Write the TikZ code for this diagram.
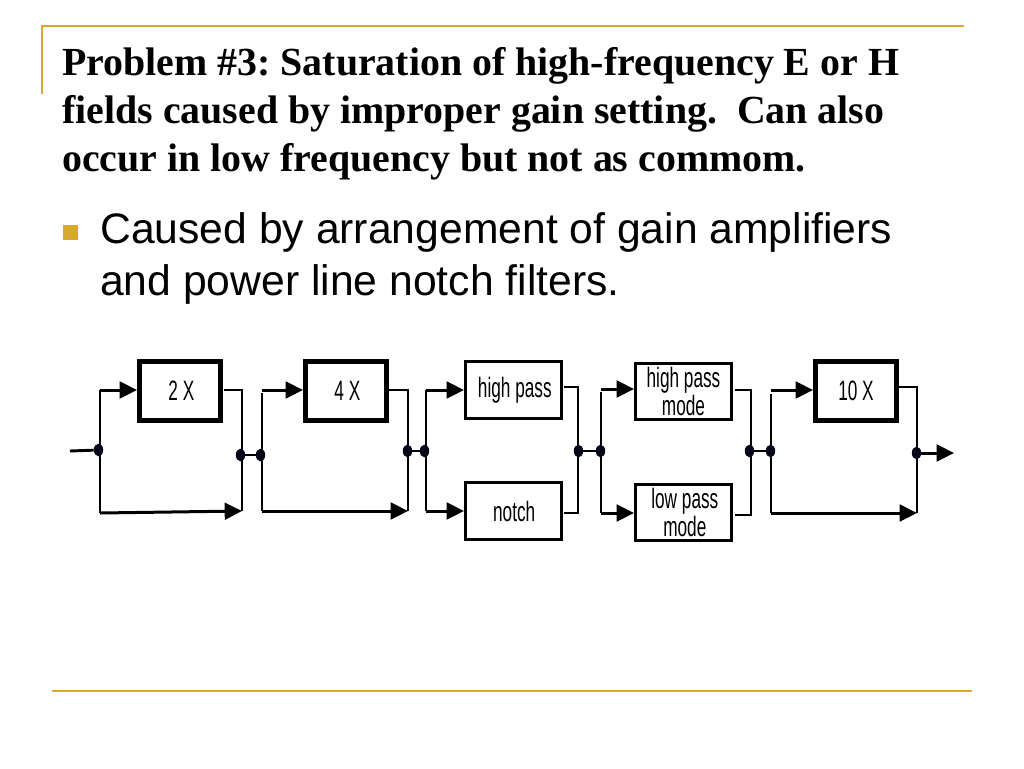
\documentclass[tikz,border=0pt]{standalone}
\usepackage{fontspec}
\usepackage{graphicx}
\setmainfont{Liberation Serif}
\setsansfont{Liberation Sans}
\usetikzlibrary{arrows.meta,shapes.geometric,backgrounds}
\definecolor{gold}{HTML}{D6A92F}
\definecolor{dotc}{HTML}{05051A}
\newcommand{\boxtext}[1]{\scalebox{0.615}[1]{\sffamily\fontsize{21}{20}\selectfont #1}}
\tikzset{
  x=0.75pt,y=-0.75pt,
  rule/.style={draw=gold,line width=1.9pt},
  thickbox/.style={draw=black,fill=white,line width=3.75pt,minimum width=60.75pt,minimum height=44.5pt,inner sep=0pt},
  thinbox/.style={draw=black,fill=white,line width=2.25pt,minimum width=72pt,minimum height=43pt,inner sep=0pt,align=center},
  dotj/.style={ellipse,fill=dotc,inner sep=0pt,minimum width=7pt,minimum height=9.5pt},
  wire/.style={draw=black,line width=2.2pt},
  arrowwire/.style={draw=black,line width=2.25pt,-{Triangle[length=13pt,width=12.5pt]}},
}
\begin{document}
\frenchspacing
\begin{tikzpicture}
\useasboundingbox (0,0) rectangle (1024,768);
% frame rules
\coordinate (tl) at (42,26);
\coordinate (tr) at (964,26);
\coordinate (lb) at (42,94);
\coordinate (bl) at (52,691);
\coordinate (br) at (972,691);
\draw[rule] (lb) -- (tl) -- (tr);
\draw[rule] (bl) -- (br);
% title
\node[anchor=north west,align=left,inner sep=0pt,font=\fontsize{29.9}{36}\selectfont\bfseries] (title) at (62,47)
 {Problem \#3: Saturation of high-frequency E or H\\ fields caused by improper gain setting.\ \ Can also\\ occur in low frequency but not as commom.};
% bullet
\node[fill=gold,inner sep=0pt,minimum size=11pt] (bullet) at (70.5,232.5) {};
\node[anchor=north west,align=left,inner sep=0pt,font=\sffamily\fontsize{32}{39.4}\selectfont] (body) at (100,212)
 {Caused by arrangement of gain amplifiers\\ and power line notch filters.};
% boxes
\node[thickbox] (b2) at (180,391) {\hspace*{2pt}\boxtext{2 X}};
\node[thickbox] (b4) at (346,391) {\hspace*{2pt}\boxtext{4 X}};
\node[thinbox] (hp) at (513.5,390) {\hspace*{2pt}\boxtext{high pass}};
\node[thinbox] (nt) at (513.5,511) {\hspace*{1pt}\boxtext{notch}};
\node[thinbox,minimum height=42pt] (hm) at (683.5,391.5) {\boxtext{high pass}\\[0.5pt]\boxtext{mode}};
\node[thinbox,minimum height=42pt] (lm) at (683.5,512.5) {\hspace*{2pt}\boxtext{low pass}\\[0.5pt]\hspace*{2pt}\boxtext{mode}};
\node[thickbox] (b10) at (856,391) {\boxtext{10 X}};
% junctions
\node[dotj] (d1) at (98.5,450) {};
\node[dotj] (d2) at (240.5,455) {};
\node[dotj] (d3) at (260.5,455) {};
\node[dotj] (d4) at (407.5,451) {};
\node[dotj] (d5) at (424.5,451) {};
\node[dotj] (d6) at (578.5,451) {};
\node[dotj] (d7) at (600.5,451) {};
\node[dotj] (d8) at (749.5,451) {};
\node[dotj] (d9) at (770.5,451) {};
\node[dotj] (d10) at (916.5,453) {};
% free ends and corners
\coordinate (in) at (70,451);
\coordinate (out) at (954,453);
\coordinate (a1t) at (100,390); \coordinate (a1b) at (100,513);
\coordinate (a2e) at (242,511); \coordinate (a2t) at (242,390); \coordinate (a2s) at (224,390);
\coordinate (b2in) at (137,390);
\coordinate (c1t) at (262,393); \coordinate (c1s) at (262,390); \coordinate (c1b) at (262,511);
\coordinate (b4in) at (303,390);
\coordinate (c2e) at (408,511); \coordinate (c2t) at (408,390); \coordinate (c2s) at (389,390);
\coordinate (e1t) at (426,390); \coordinate (e1b) at (426,511);
\coordinate (hpin) at (464,390); \coordinate (ntin) at (464,511);
\coordinate (e2a) at (564,387); \coordinate (e2t) at (578,387); \coordinate (e2u) at (578,513); \coordinate (e2c) at (564,513);
\coordinate (f1t) at (601,392); \coordinate (f1s) at (601,389); \coordinate (f1b) at (601,513);
\coordinate (hmin) at (634,389); \coordinate (lmin) at (634,513);
\coordinate (f2a) at (735,390); \coordinate (f2t) at (751,390); \coordinate (f2u) at (751,515); \coordinate (f2c) at (735,515);
\coordinate (g1t) at (771,394); \coordinate (g1s) at (771,390); \coordinate (g1b) at (771,513);
\coordinate (b10in) at (813,390);
\coordinate (g2a) at (899,387); \coordinate (g2t) at (917,387); \coordinate (g2e) at (917,513);
\begin{pgfonlayer}{background}
\fill[white] (0,0) rectangle (1024,768);
% wires: 2 X
\draw[wire] (in) -- (d1);
\draw[wire] (a1b) -- (a1t);
\draw[arrowwire] (a1t) -- (b2in);
\draw[arrowwire] (a1b) -- (a2e);
\draw[wire] (a2s) -- (a2t) -- (a2e);
\draw[wire] (d2) -- (d3);
% wires: 4 X
\draw[wire] (c1t) -- (c1b);
\draw[arrowwire] (c1s) -- (b4in);
\draw[arrowwire] (c1b) -- (c2e);
\draw[wire] (c2s) -- (c2t) -- (c2e);
\draw[wire] (d4) -- (d5);
% wires: high pass / notch
\draw[wire] (e1b) -- (e1t);
\draw[arrowwire] (e1t) -- (hpin);
\draw[arrowwire] (e1b) -- (ntin);
\draw[wire] (e2a) -- (e2t) -- (e2u) -- (e2c);
\draw[wire] (d6) -- (d7);
% wires: modes
\draw[wire] (f1t) -- (f1b);
\draw[arrowwire] (f1s) -- (hmin);
\draw[arrowwire] (f1b) -- (lmin);
\draw[wire] (f2a) -- (f2t) -- (f2u) -- (f2c);
\draw[wire] (d8) -- (d9);
% wires: 10 X
\draw[wire] (g1t) -- (g1b);
\draw[arrowwire] (g1s) -- (b10in);
\draw[arrowwire] (g1b) -- (g2e);
\draw[wire] (g2a) -- (g2t) -- (g2e);
\draw[arrowwire] (d10) -- (out);
\end{pgfonlayer}
\end{tikzpicture}
\end{document}
